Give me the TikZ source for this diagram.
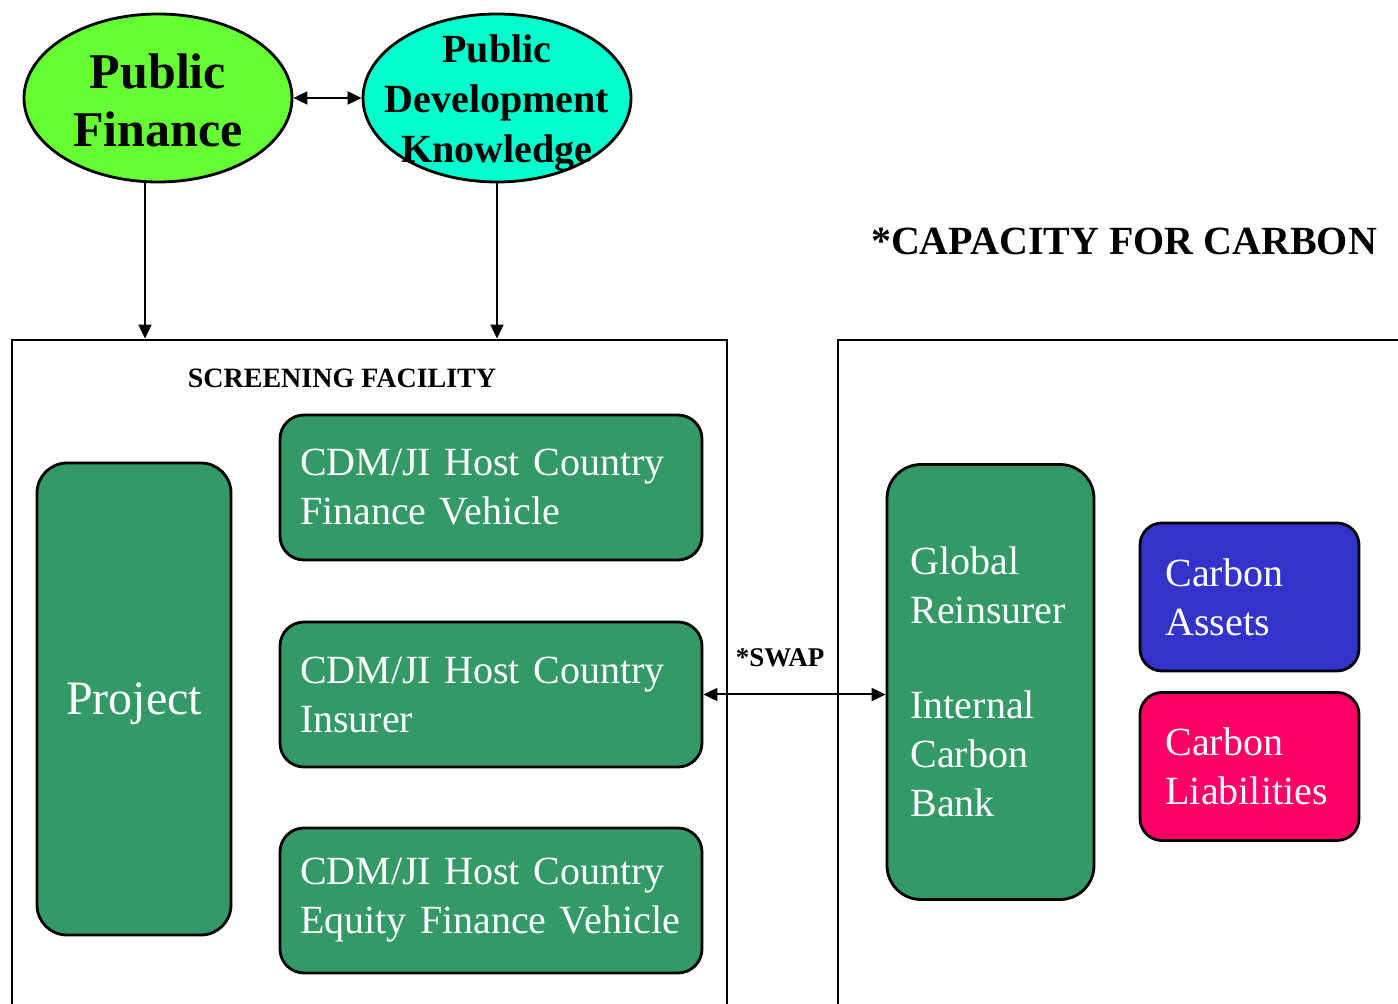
\documentclass[tikz,border=0pt]{standalone}
\usepackage{fontspec}
\setmainfont{Liberation Serif}
\usepackage{tikz}
\usetikzlibrary{shapes,arrows.meta,positioning,calc}

\definecolor{boxgreen}{HTML}{339966}
\definecolor{pubgreen}{HTML}{66FF33}
\definecolor{pubcyan}{HTML}{00FFCC}
\definecolor{assetblue}{HTML}{3333CC}
\definecolor{liabpink}{HTML}{FF0066}

\tikzset{
    bubble/.style={ellipse, draw, line width=1.4pt, minimum width=134pt, minimum height=84pt, inner sep=0pt},
    frame/.style={draw, line width=1.4pt},
    greenbox/.style={draw, line width=1.4pt, fill=boxgreen, text=white, font=\fontsize{20}{24.5}\selectfont},
    hostbox/.style={greenbox, rounded corners=12pt, minimum height=72.5pt, text width=191pt, inner xsep=10pt, align=left},
    carbbox/.style={greenbox, rounded corners=11pt, minimum height=74pt, text width=84pt, inner xsep=12.75pt, align=left},
    arr/.style={line width=1pt, -{Triangle[length=7pt,width=6.5pt]}},
    darr/.style={line width=1pt, {Triangle[length=7pt,width=6.5pt]}-{Triangle[length=7pt,width=6.5pt]}}
}

\begin{document}
\begin{tikzpicture}[x=0.5pt, y=-0.5pt]
    \clip (0,0) rectangle (1398,1004);

    % public side
    \node[bubble, fill=pubgreen, label={[font=\bfseries\fontsize{25}{29}\selectfont, align=center, yshift=-1pt]center:Public\\Finance}] (pf) at (158,98) {};
    \node[bubble, fill=pubcyan, label={[font=\bfseries\fontsize{20}{25}\selectfont, align=center, yshift=-2.5pt]center:Public\\Development\\Knowledge}] (pdk) at (497,98) {};
    \draw[darr] (pf.east) -- (pdk.west);

    % the two frames
    \node[frame, minimum width=357.5pt, minimum height=350pt] (fac) at (369.5,690) {};
    \node[frame, minimum width=291pt, minimum height=350pt] (cap) at (1129,690) {};
    \node[font=\bfseries\fontsize{14}{16}\selectfont] (factitle) at (342,378) {SCREENING FACILITY};
    \node[font=\bfseries\fontsize{20}{24}\selectfont] (captitle) at (1124,241) {*CAPACITY FOR CARBON};

    \draw[arr] ([xshift=-6.5pt]pf.south) -- ([xshift=-6.5pt]pf.south |- fac.north);
    \draw[arr] (pdk.south) -- (pdk.south |- fac.north);

    % screening facility
    \node[greenbox, rounded corners=15pt, minimum width=97pt, minimum height=236pt, text depth=0pt, font=\fontsize{24}{28}\selectfont] (proj) at (134,699) {Project};
    \node[hostbox] (cdm1) at (491,487.5) {CDM/JI Host Country\\Finance Vehicle};
    \node[hostbox] (cdm2) at (491,694.5) {CDM/JI Host Country\\Insurer};
    \node[hostbox] (cdm3) at (491,900.5) {CDM/JI Host Country\\Equity Finance Vehicle};

    % capacity for carbon
    \node[greenbox, rounded corners=17pt, minimum height=217.5pt, text width=80pt, inner xsep=11.75pt, align=left] (glob) at (990.5,682)
        {Global\\Reinsurer\\[23pt]Internal\\Carbon\\Bank};
    \node[carbbox, fill=assetblue] (assets) at (1249.5,597) {Carbon\\Assets};
    \node[carbbox, fill=liabpink] (liab) at (1249.5,766.5) {Carbon\\Liabilities};

    \draw[darr] (cdm2.east) -- (cdm2.east -| glob.west);
    \node[font=\bfseries\fontsize{13.5}{16}\selectfont] (swap) at (780,658) {*SWAP};
\end{tikzpicture}
\end{document}
